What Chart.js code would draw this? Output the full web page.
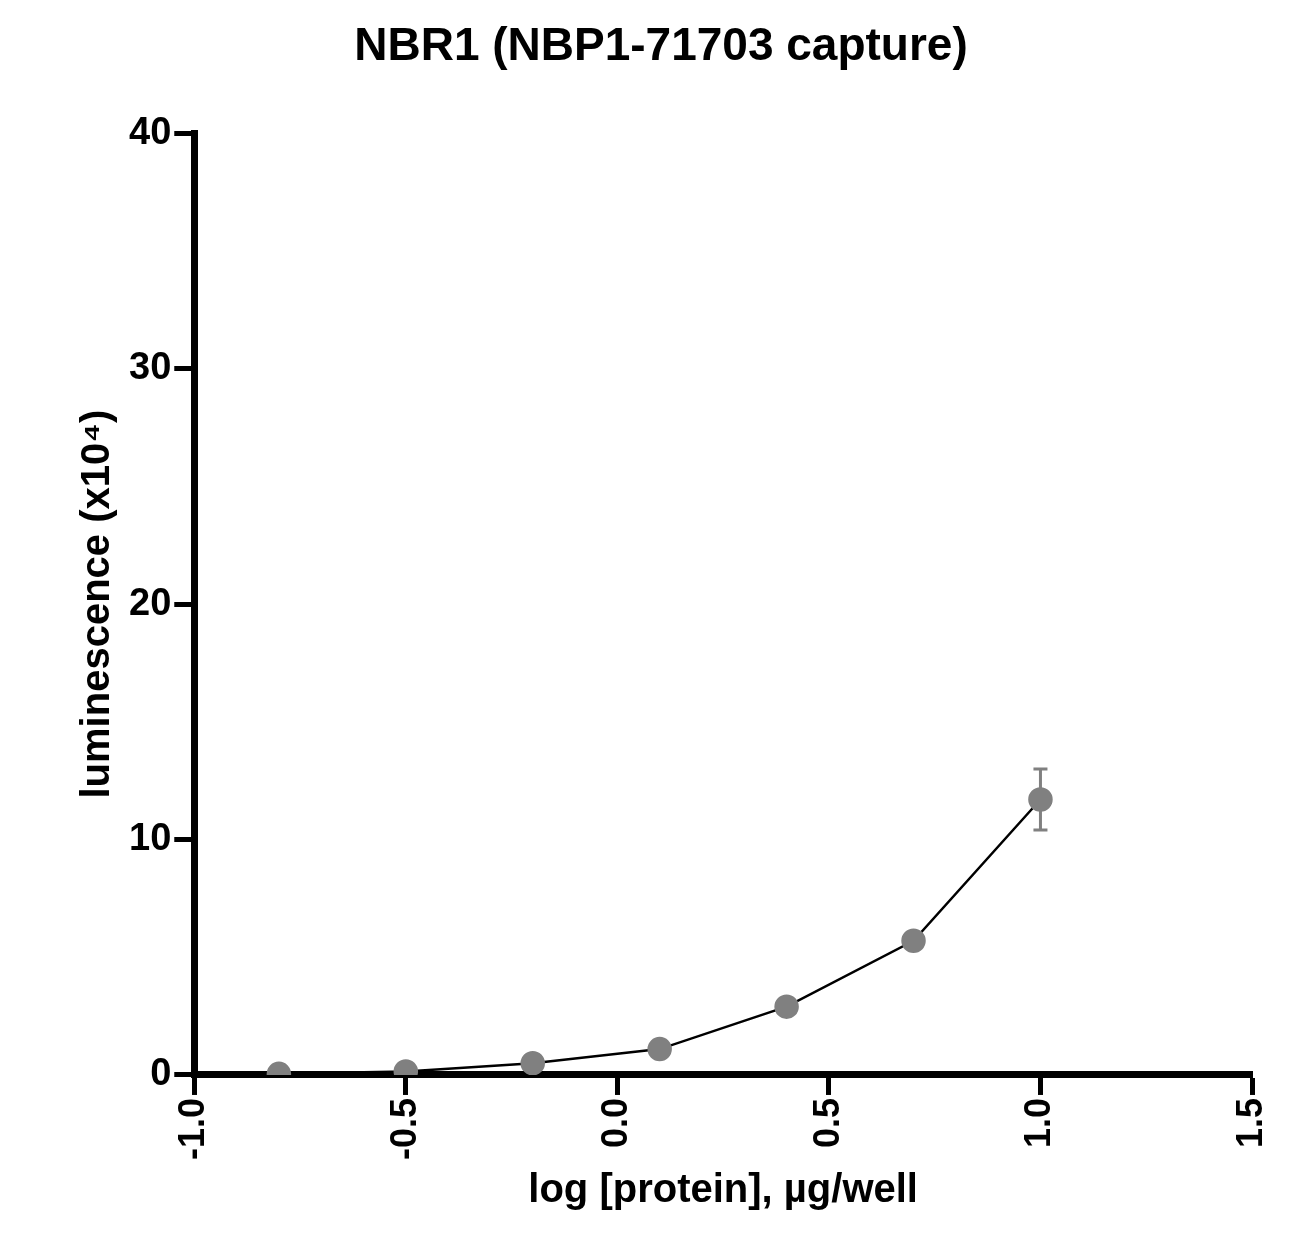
<!DOCTYPE html>
<html><head><script src="https://cdn.jsdelivr.net/npm/chart.js"></script>
<style>body{margin:0;background:#fff}#w{width:1300px;height:1259px}</style></head>
<body><div id="w"><canvas id="c"></canvas></div>
<script>
const logConc=[-0.8,-0.5,-0.2,0.1,0.4,0.7,1.0];
const lum=[0.05,0.15,0.5,1.1,2.9,5.7,11.7];
const lumErr=[0,0,0,0,0,0,1.3];
const F='Liberation Sans, Arial, sans-serif';
const errPlugin={id:'err',afterDatasetsDraw(ch){const ctx=ch.ctx,xs=ch.scales.x,ys=ch.scales.y;ctx.save();ctx.strokeStyle='#808080';ctx.lineWidth=3;
logConc.forEach((x,i)=>{if(!lumErr[i])return;const px=xs.getPixelForValue(x),t=ys.getPixelForValue(lum[i]+lumErr[i]),b=ys.getPixelForValue(lum[i]-lumErr[i]);
ctx.beginPath();ctx.moveTo(px,t);ctx.lineTo(px,b);ctx.moveTo(px-7,t);ctx.lineTo(px+7,t);ctx.moveTo(px-7,b);ctx.lineTo(px+7,b);ctx.stroke();});ctx.restore();}};
new Chart(document.getElementById('c'),{type:'line',
data:{datasets:[{data:logConc.map((x,i)=>({x,y:lum[i]})),borderColor:'#000',borderWidth:2.5,pointRadius:11,pointBackgroundColor:'#808080',pointBorderColor:'#808080',pointHoverRadius:11}]},
options:{responsive:true,maintainAspectRatio:false,animation:false,layout:{padding:{top:20,right:48,left:70,bottom:40}},
plugins:{legend:{display:false},tooltip:{enabled:false},title:{display:true,text:'NBR1 (NBP1-71703 capture)',color:'#000',font:{family:F,size:46,weight:'bold'},padding:{bottom:58}}},
scales:{x:{type:'linear',min:-1,max:1.5,ticks:{stepSize:0.5,minRotation:90,maxRotation:90,color:'#000',font:{family:F,size:36,weight:'bold'},callback:v=>v.toFixed(1)},
grid:{drawOnChartArea:false,tickLength:20,tickWidth:5,tickColor:'#000'},border:{color:'#000',width:7},
title:{display:true,text:'log [protein], µg/well',color:'#000',font:{family:F,size:40,weight:'bold'}}},
y:{min:0,max:40,ticks:{stepSize:10,color:'#000',font:{family:F,size:38,weight:'bold'}},
grid:{drawOnChartArea:false,tickLength:20,tickWidth:5,tickColor:'#000'},border:{color:'#000',width:7},
title:{display:true,text:'luminescence (x10⁴)',color:'#000',font:{family:F,size:40,weight:'bold'}}}}},
plugins:[errPlugin]});
</script></body></html>
